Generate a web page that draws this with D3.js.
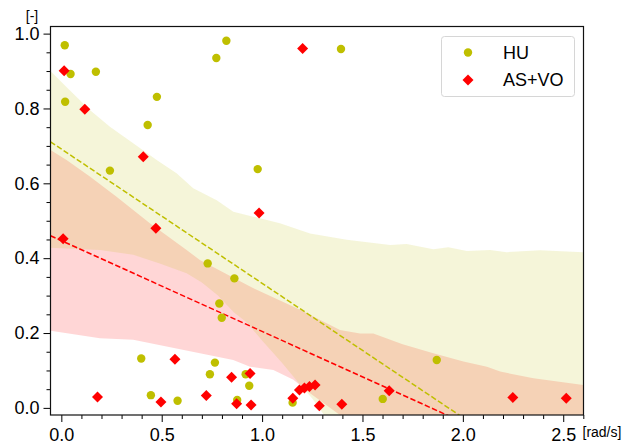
<!DOCTYPE html>
<html>
<head>
<meta charset="utf-8">
<script src="https://cdn.jsdelivr.net/npm/d3@7"></script>
<style>
  body { margin: 0; background: #fff; }
  svg { display: block; font-family: "Liberation Sans", Arial, sans-serif; }
</style>
</head>
<body>
<div id="chart"></div>
<script>
// ---------------------------------------------------------------------------
// Data
// ---------------------------------------------------------------------------
const huX = [0.017, 0.046, 0.172, 0.019, 0.476, 0.43, 0.242, 0.772, 0.822, 1.393,
             0.978, 0.729, 0.862, 0.787, 0.799, 0.398, 0.765, 0.74, 0.918, 0.936,
             0.446, 0.579, 0.876, 1.152, 1.601, 1.870];
const huY = [0.969, 0.892, 0.898, 0.818, 0.831, 0.756, 0.634, 0.935, 0.981, 0.959,
             0.638, 0.386, 0.346, 0.279, 0.241, 0.132, 0.121, 0.09, 0.09, 0.059,
             0.034, 0.019, 0.021, 0.014, 0.024, 0.128];

const asvoX = [0.014, 0.117, 0.408, 0.471, 0.009, 1.202, 0.985, 0.180, 0.566, 0.496,
               0.722, 0.848, 0.94, 0.873, 0.945, 1.153, 1.186, 1.211, 1.236, 1.264,
               1.285, 1.397, 1.633, 2.249, 2.515];
const asvoY = [0.901, 0.798, 0.671, 0.48, 0.452, 0.96, 0.521, 0.029, 0.130, 0.016,
               0.033, 0.082, 0.092, 0.011, 0.008, 0.026, 0.048, 0.053, 0.057, 0.061,
               0.006, 0.01, 0.046, 0.028, 0.026];

// fitted lines (end points)
const huFitX = [-0.054, 2.6];
const huFitY = [0.711, -0.241];
const asvoFitX = [-0.054, 2.6];
const asvoFitY = [0.460, -0.184];

// bands: upper and lower edges
const huUpX = [-0.054, 0.042, 0.142, 0.242, 0.358, 0.475, 0.574, 0.657, 0.774, 0.857,
               0.956, 1.089, 1.239, 1.422, 1.638, 1.72, 1.853, 1.928, 2.02, 2.136,
               2.219, 2.385, 2.6];
const huUpY = [0.900, 0.849, 0.796, 0.751, 0.707, 0.662, 0.627, 0.587, 0.555, 0.524,
               0.511, 0.493, 0.466, 0.449, 0.435, 0.438, 0.424, 0.429, 0.419, 0.422,
               0.416, 0.421, 0.416];
const huLoX = [-0.054, 0.192, 0.358, 0.49, 0.624, 0.70, 0.78, 0.86, 0.92, 1.0,
               1.1, 1.2, 1.25, 1.31, 1.4, 2.6];
const huLoY = [0.428, 0.422, 0.409, 0.386, 0.36, 0.335, 0.30, 0.255, 0.23, 0.18,
               0.12, 0.055, 0.025, -0.02, -0.08, -0.1];

const asvoUpX = [-0.054, 0.026, 0.142, 0.275, 0.441, 0.624, 0.69, 0.94, 1.189, 1.388,
                 1.488, 1.554, 1.7, 1.853, 2.003, 2.12, 2.186, 2.352, 2.6];
const asvoUpY = [0.689, 0.662, 0.618, 0.564, 0.493, 0.422, 0.395, 0.324, 0.262, 0.208,
                 0.199, 0.199, 0.17, 0.146, 0.124, 0.11, 0.097, 0.079, 0.061];
const asvoLoX = [-0.054, 0.192, 0.358, 0.524, 0.69, 0.856, 0.94, 1.056, 1.156, 1.239,
                 1.39, 1.5, 2.6];
const asvoLoY = [0.206, 0.186, 0.182, 0.164, 0.146, 0.128, 0.11, 0.101, 0.075, 0.039,
                 -0.02, -0.05, -0.1];

const xTicks = [0, 0.5, 1.0, 1.5, 2.0, 2.5];
const yTicks = [0, 0.2, 0.4, 0.6, 0.8, 1.0];
const seriesNames = ["HU", "AS+VO"];

// ---------------------------------------------------------------------------
// Set up
// ---------------------------------------------------------------------------
const width = 625,
      height = 445;
const plotLeft = 50.5, plotRight = 583.5, plotTop = 26.5, plotBottom = 415;

const huColor = "#bfbf00",
      asvoColor = "#ff0000";

const x = d3.scaleLinear()
    .domain([-0.054, 2.601])
    .range([plotLeft, plotRight]);

const y = d3.scaleLinear()
    .domain([-0.019, 1.019])
    .range([plotBottom, plotTop]);

const svg = d3.select("#chart")
  .append("svg")
    .attr("width", width)
    .attr("height", height);

svg.append("defs")
  .append("clipPath")
    .attr("id", "plot-clip")
  .append("rect")
    .attr("x", plotLeft)
    .attr("y", plotTop)
    .attr("width", plotRight - plotLeft)
    .attr("height", plotBottom - plotTop);

const plot = svg.append("g")
    .attr("clip-path", "url(#plot-clip)");

// ---------------------------------------------------------------------------
// Bands
// ---------------------------------------------------------------------------
function bandPoints(upX, upY, loX, loY) {
  const up = upX.map((d, i) => [d, upY[i]]);
  const lo = loX.map((d, i) => [d, loY[i]]).reverse();
  return up.concat(lo);
}

const polyLine = d3.line()
    .x(d => x(d[0]))
    .y(d => y(d[1]));

plot.append("path")
    .datum(bandPoints(asvoUpX, asvoUpY, asvoLoX, asvoLoY))
    .attr("fill", asvoColor)
    .attr("fill-opacity", 0.16)
    .attr("d", d => polyLine(d) + "Z");

plot.append("path")
    .datum(bandPoints(huUpX, huUpY, huLoX, huLoY))
    .attr("fill", huColor)
    .attr("fill-opacity", 0.15)
    .attr("d", d => polyLine(d) + "Z");

// ---------------------------------------------------------------------------
// Fit lines
// ---------------------------------------------------------------------------
[[huFitX, huFitY, huColor], [asvoFitX, asvoFitY, asvoColor]].forEach(([fx, fy, c]) => {
  plot.append("path")
      .datum(fx.map((d, i) => [d, fy[i]]))
      .attr("fill", "none")
      .attr("stroke", c)
      .attr("stroke-width", 1.5)
      .attr("stroke-dasharray", "5.5,2.4")
      .attr("d", polyLine);
});

// ---------------------------------------------------------------------------
// Points
// ---------------------------------------------------------------------------
svg.append("g")
  .selectAll("circle")
  .data(huX.map((d, i) => ({ x: d, y: huY[i] })))
  .enter()
  .append("circle")
    .attr("cx", d => x(d.x))
    .attr("cy", d => y(d.y))
    .attr("r", 4.2)
    .attr("fill", huColor);

const diamond = "M0,-5.5L5.5,0L0,5.5L-5.5,0Z";

svg.append("g")
  .selectAll("path")
  .data(asvoX.map((d, i) => ({ x: d, y: asvoY[i] })))
  .enter()
  .append("path")
    .attr("transform", d => `translate(${x(d.x)},${y(d.y)})`)
    .attr("d", diamond)
    .attr("fill", asvoColor);

// ---------------------------------------------------------------------------
// Axes
// ---------------------------------------------------------------------------
svg.append("g")
    .attr("transform", `translate(0,${plotBottom})`)
    .call(d3.axisBottom(x).tickValues(xTicks).tickFormat(d3.format(".1f"))
      .tickSize(7).tickPadding(6));

svg.append("g")
    .attr("transform", `translate(0,${plotBottom})`)
    .call(d3.axisBottom(x).tickValues(d3.range(0, 27).map(i => i / 10)
      .filter(d => !xTicks.some(t => Math.abs(t - d) < 1e-9))).tickFormat("").tickSize(4));

svg.append("g")
    .attr("transform", `translate(${plotLeft},0)`)
    .call(d3.axisLeft(y).tickValues(yTicks).tickFormat(d3.format(".1f"))
      .tickSize(7).tickPadding(4));

svg.append("g")
    .attr("transform", `translate(${plotLeft},0)`)
    .call(d3.axisLeft(y).tickValues(d3.range(0, 21).map(i => i / 20)
      .filter(d => !yTicks.some(t => Math.abs(t - d) < 1e-9))).tickFormat("").tickSize(4));

svg.selectAll(".domain").remove();
svg.selectAll(".tick line").attr("stroke", "#000").attr("stroke-width", 1);
svg.selectAll(".tick text")
    .attr("fill", "#000")
    .style("font-size", "18px")
    .style("font-family", "'Liberation Sans', Arial, sans-serif");

// frame
svg.append("rect")
    .attr("x", plotLeft)
    .attr("y", plotTop)
    .attr("width", plotRight - plotLeft)
    .attr("height", plotBottom - plotTop)
    .attr("fill", "none")
    .attr("stroke", "#111")
    .attr("stroke-width", 1.2);

// unit labels
svg.append("text")
    .attr("x", 32)
    .attr("y", 20.5)
    .attr("text-anchor", "middle")
    .style("font-size", "14px")
    .text("[-]");

svg.append("text")
    .attr("x", 582.5)
    .attr("y", 436.5)
    .style("font-size", "14px")
    .text("[rad/s]");

// ---------------------------------------------------------------------------
// Legend
// ---------------------------------------------------------------------------
const legend = svg.append("g")
    .attr("transform", "translate(441,36)");

legend.append("rect")
    .attr("x", 0.5)
    .attr("y", 0.5)
    .attr("width", 133)
    .attr("height", 60)
    .attr("rx", 3)
    .attr("fill", "#fff")
    .attr("fill-opacity", 0.8)
    .attr("stroke", "#d6d6d6");

const legendItem = legend.selectAll(".item")
  .data(seriesNames)
  .enter()
  .append("g")
    .attr("class", "item")
    .attr("transform", (d, i) => `translate(0,${16.5 + i * 27.5})`);

legendItem.each(function(d, i) {
  const g = d3.select(this);
  if (i === 0) {
    g.append("circle").attr("cx", 27).attr("r", 4.2).attr("fill", huColor);
  } else {
    g.append("path").attr("transform", "translate(27,0)").attr("d", diamond).attr("fill", asvoColor);
  }
  g.append("text")
      .attr("x", 62)
      .attr("dy", "0.35em")
      .style("font-size", "18px")
      .text(d);
});
</script>
</body>
</html>
